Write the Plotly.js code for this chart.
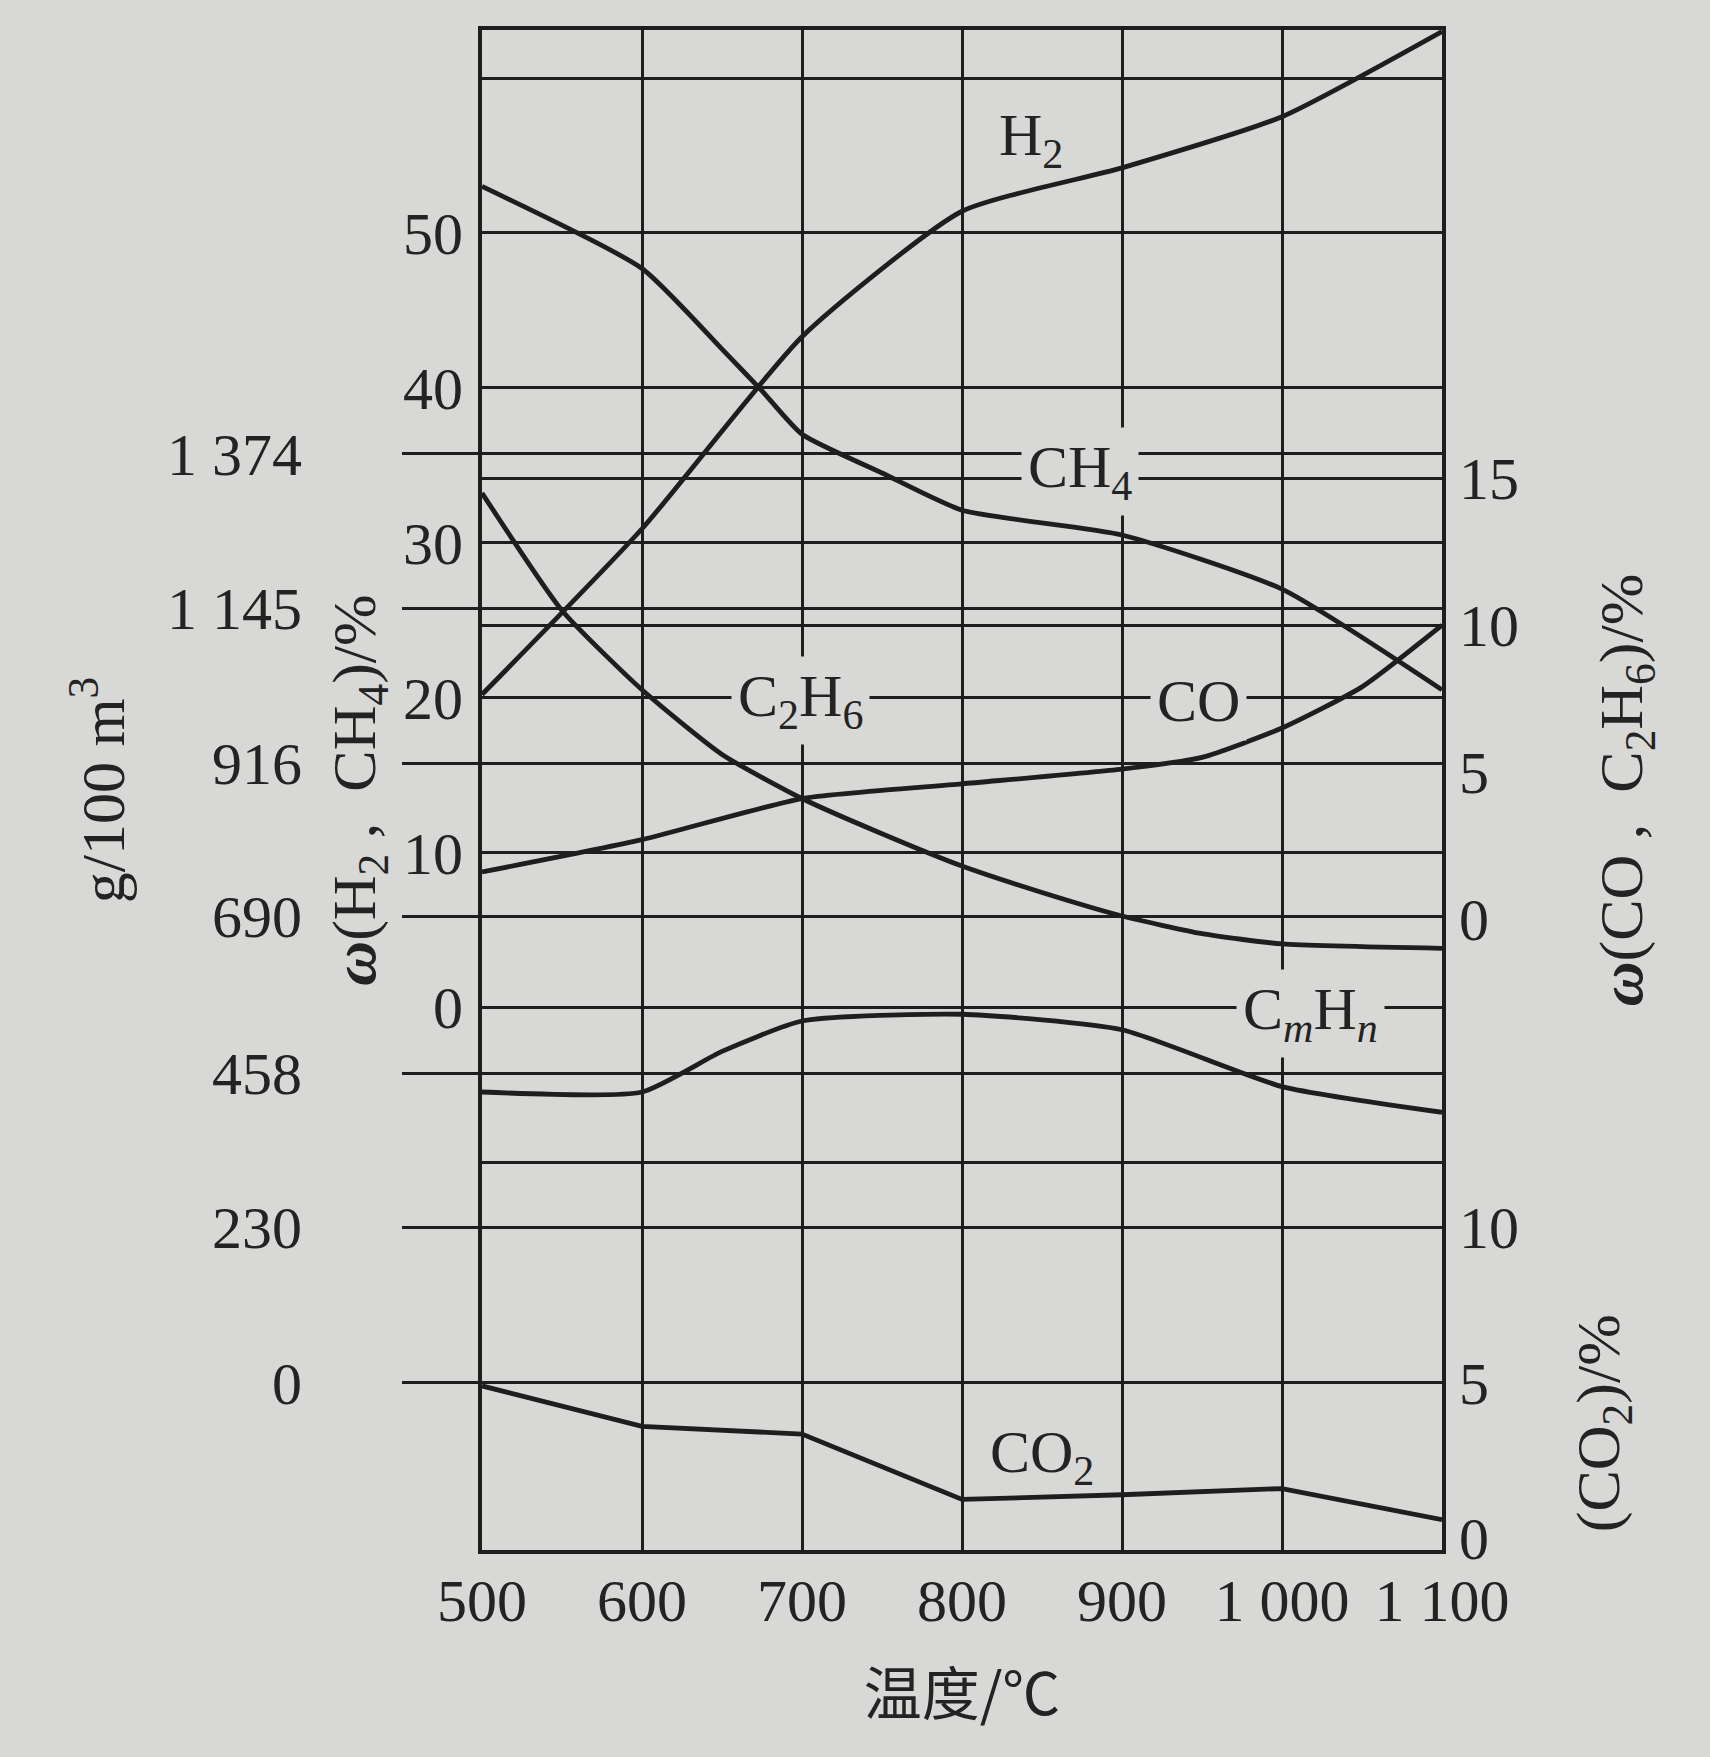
<!DOCTYPE html>
<html>
<head>
<meta charset="utf-8">
<script src="https://cdn.plot.ly/plotly-3.0.1.min.js"></script>
<style>html,body{margin:0;padding:0;background:#d7d7d5;}</style>
</head>
<body>
<div id="chart" style="width:1710px;height:1757px;"></div>
<script>
// ---------- data ----------
const temperature = [500, 600, 700, 800, 900, 1000, 1100];
const xTickText = ['500', '600', '700', '800', '900', '1 000', '1 100'];

// ω(H2), ω(CH4) in %  (left inner axis)
const h2 = [20.2, 30.9, 43.3, 51.4, 54.2, 57.5, 63.0];
const ch4Temp = [500, 600, 650, 675, 700, 750, 800, 900, 1000, 1100];
const ch4 = [53.0, 47.7, 42.5, 39.8, 37.0, 34.5, 32.1, 30.5, 27.0, 20.5];

// ω(CO), ω(C2H6) in %  (right upper axis)
const c2h6Temp = [500, 550, 600, 650, 700, 750, 800, 850, 900, 950, 1000, 1100];
const c2h6 = [14.5, 10.5, 7.8, 5.6, 4.1, 2.9, 1.8, 0.9, 0.1, -0.5, -0.85, -1.0];
const coTemp = [500, 600, 700, 800, 900, 950, 1000, 1050, 1100];
const co = [1.6, 2.7, 4.1, 4.6, 5.1, 5.5, 6.5, 7.9, 10.0];

// CmHn in g/100 m3  (left outer axis)
const cmhnTemp = [500, 600, 650, 700, 800, 900, 1000, 1100];
const cmhn = [430, 430, 490, 535, 545, 522, 438, 400];

// CO2 in %  (right lower axis)
const co2 = [4.9, 3.6, 3.35, 1.25, 1.4, 1.6, 0.6];

// tick values / labels
const leftPctGrid = [-10, 0, 10, 20, 30, 40, 50, 60];
const leftPctText = ['', '0', '10', '20', '30', '40', '50', ''];
const massTicks = [0, 230, 458, 690, 916, 1145, 1374];
const massTickText = ['0', '230', '458', '690', '916', '1 145', '1 374'];
const rightPctTicks = [0, 5, 10, 15];
const rightPctGrid = [10, 15];
const co2Ticks = [0, 5, 10];

// ---------- style ----------
const bg = '#d8d8d6';
const ink = '#1e1e1e';
const txt = '#232323';
const serif = '"Liberation Serif", "DejaVu Serif", "Noto Sans CJK SC", serif';
const gridW = 3;
const curveW = 4.8;
const tickSize = 60;
const titleSize = 62;
const labelSize = 60;
const sp = '\u00a0';

const y1Range = [-35.03, 63.1];
const y2Range = [-247.2, 2000.3];
const y3Range = [-21.48, 30.26];
const y4Range = [-0.376, 48.5];

function curve(x, y, axis, shape) {
  return {
    x: x, y: y, yaxis: axis, type: 'scatter', mode: 'lines',
    line: {color: ink, width: curveW, shape: shape || 'spline', smoothing: 0.55},
    hoverinfo: 'skip', showlegend: false
  };
}

const traces = [
  curve(temperature, h2, 'y', 'spline'),
  curve(ch4Temp, ch4, 'y', 'spline'),
  curve(cmhnTemp, cmhn, 'y2', 'spline'),
  curve(c2h6Temp, c2h6, 'y3', 'spline'),
  curve(coTemp, co, 'y5', 'spline'),
  curve(temperature, co2, 'y4', 'linear')
];

const baseY = {
  zeroline: false, showline: false, ticks: '',
  gridcolor: ink, gridwidth: gridW,
  tickfont: {family: serif, size: tickSize, color: txt},
  fixedrange: true
};

const layout = {
  width: 1710, height: 1757,
  paper_bgcolor: bg, plot_bgcolor: bg,
  margin: {l: 482, r: 268, t: 30, b: 207},
  showlegend: false,
  font: {family: serif, size: tickSize, color: txt},
  xaxis: {
    range: [500, 1100], tickvals: temperature, ticktext: xTickText,
    showgrid: true, gridcolor: ink, gridwidth: gridW,
    showline: true, linecolor: ink, linewidth: 4, mirror: true,
    zeroline: false, ticks: '', ticklabelstandoff: -5,
    tickfont: {family: serif, size: tickSize, color: txt},
    title: {text: '温度/℃', font: {family: '"Noto Sans CJK SC", ' + serif, size: 58, color: txt}, standoff: 42}
  },
  yaxis: Object.assign({}, baseY, {
    range: y1Range, tickvals: leftPctGrid, ticktext: leftPctText,
    showgrid: true, showline: true, linecolor: ink, linewidth: 4, mirror: true,
    ticklabelstandoff: 3,
    title: {text: '<b><i>ω</i></b>(H<sub>2</sub>' + sp + ',' + sp + sp + 'CH<sub>4</sub>)/%', font: {family: serif, size: titleSize, color: txt}, standoff: 8}
  }),
  yaxis2: Object.assign({}, baseY, {
    overlaying: 'y', side: 'left', anchor: 'x',
    range: y2Range, tickvals: massTicks, ticktext: massTickText,
    showgrid: true, ticks: 'outside', ticklen: 79, tickwidth: gridW, tickcolor: ink,
    ticklabelstandoff: 88,
    title: {text: 'g/100 m<sup>3</sup>', font: {family: serif, size: titleSize, color: txt}, standoff: 22}
  }),
  yaxis3: Object.assign({}, baseY, {
    overlaying: 'y', side: 'right', anchor: 'x',
    range: y3Range, tickvals: rightPctTicks, showgrid: false,
    ticklabelstandoff: 16,
    title: {text: '<b><i>ω</i></b>(CO' + sp + ',' + sp + sp + 'C<sub>2</sub>H<sub>6</sub>)/%', font: {family: serif, size: titleSize, color: txt}, standoff: 80}
  }),
  yaxis5: Object.assign({}, baseY, {
    overlaying: 'y', side: 'right', anchor: 'x',
    range: y3Range, tickvals: rightPctGrid, showgrid: true, showticklabels: false
  }),
  yaxis4: Object.assign({}, baseY, {
    overlaying: 'y', side: 'right', anchor: 'x',
    range: y4Range, tickvals: co2Ticks, showgrid: false,
    ticklabelstandoff: 16
  }),
  annotations: [
    {text: '(CO<sub>2</sub>)/%', xref: 'paper', yref: 'paper', x: 1.168, y: 0.0836,
     xanchor: 'center', yanchor: 'middle', textangle: -90,
     showarrow: false, font: {family: serif, size: titleSize, color: txt}},
    {text: 'H<sub>2</sub>', x: 843, y: 56.0, xref: 'x', yref: 'y', showarrow: false,
     font: {family: serif, size: labelSize, color: txt}},
    {text: 'CH<sub>4</sub>', x: 874, y: 34.6, xref: 'x', yref: 'y', showarrow: false,
     bgcolor: bg, borderpad: 6, font: {family: serif, size: labelSize, color: txt}},
    {text: 'C<sub>2</sub>H<sub>6</sub>', x: 699, y: 19.8, xref: 'x', yref: 'y', showarrow: false,
     bgcolor: bg, borderpad: 6, font: {family: serif, size: labelSize, color: txt}},
    {text: 'CO', x: 948, y: 19.8, xref: 'x', yref: 'y', showarrow: false,
     bgcolor: bg, borderpad: 6, font: {family: serif, size: labelSize, color: txt}},
    {text: 'C<sub><i>m</i></sub>H<sub><i>n</i></sub>', x: 1018, y: -0.4, xref: 'x', yref: 'y', showarrow: false,
     bgcolor: bg, borderpad: 6, font: {family: serif, size: labelSize, color: txt}},
    {text: 'CO<sub>2</sub>', x: 850, y: -29.0, xref: 'x', yref: 'y', showarrow: false,
     font: {family: serif, size: labelSize, color: txt}}
  ]
};

Plotly.newPlot('chart', traces, layout, {staticPlot: true, displayModeBar: false});
</script>
</body>
</html>
